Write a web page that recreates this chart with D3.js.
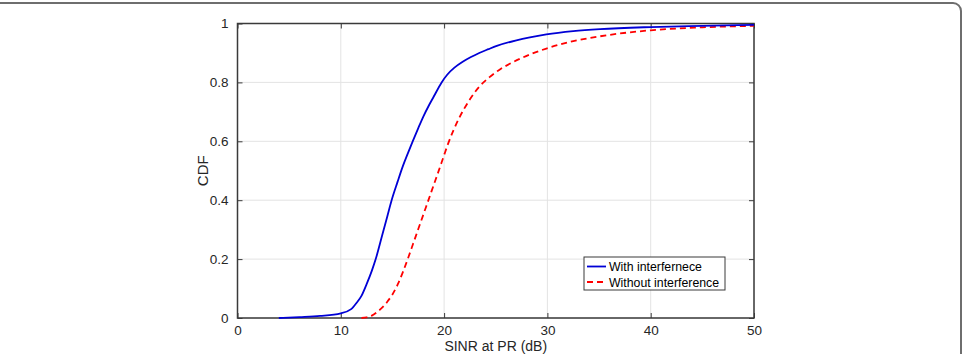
<!DOCTYPE html>
<html>
<head>
<meta charset="utf-8">
<script src="https://cdn.jsdelivr.net/npm/d3@7"></script>
<style>
  body { margin: 0; background: #fff; }
  svg { display: block; font-family: "Liberation Sans", Arial, sans-serif; }
</style>
</head>
<body>
<script>
// values
var xWith = [4, 6, 8, 10, 11, 11.54, 12, 12.5, 13, 13.38, 14, 14.5, 14.92, 15.5, 16, 16.5, 16.96, 17.5, 18, 18.5, 19, 19.76, 20.3, 21, 21.8, 22.6, 23.4, 24.3, 25.1, 27, 28.3, 29.9, 32.5, 35.1, 40, 45, 50];
var fWith = [0, 0.003, 0.007, 0.016, 0.03, 0.052, 0.075, 0.115, 0.16, 0.2, 0.28, 0.345, 0.4, 0.463, 0.515, 0.56, 0.6, 0.645, 0.685, 0.72, 0.752, 0.8, 0.826, 0.85, 0.87, 0.886, 0.9, 0.913, 0.924, 0.943, 0.953, 0.963, 0.974, 0.981, 0.988, 0.992, 0.995];
var xWithout = [12, 12.5, 13, 13.5, 14, 14.5, 15, 15.5, 16, 16.5, 17, 17.5, 18, 18.5, 19, 19.5, 20, 20.4, 21.4, 22.4, 23.4, 24.4, 25.4, 26.4, 27.4, 28.4, 29.9, 32.5, 35, 40, 45, 50];
var fWithout = [0, 0.002, 0.008, 0.02, 0.035, 0.055, 0.08, 0.113, 0.155, 0.202, 0.252, 0.302, 0.352, 0.402, 0.452, 0.502, 0.553, 0.593, 0.675, 0.737, 0.785, 0.818, 0.844, 0.864, 0.881, 0.896, 0.915, 0.94, 0.956, 0.977, 0.987, 0.992];
var xTicks = [0, 10, 20, 30, 40, 50];
var yTicks = [0, 0.2, 0.4, 0.6, 0.8, 1];
var seriesNames = ['With interfernece', 'Without interference'];

var width = 964, height = 354;
var margin = {left: 237.5, right: 964 - 754, top: 23.5, bottom: 354 - 318};

var svg = d3.select('body').append('svg')
    .attr('width', width)
    .attr('height', height);

// figure frame
svg.append('rect')
    .attr('x', -10).attr('y', 3)
    .attr('width', 971).attr('height', 400)
    .attr('rx', 8)
    .attr('fill', 'none')
    .attr('stroke', '#6e6e6e')
    .attr('stroke-width', 2);

var x = d3.scaleLinear().domain([0, 50]).range([margin.left, width - margin.right]);
var y = d3.scaleLinear().domain([0, 1]).range([height - margin.bottom, margin.top]);

var g = svg.append('g');

// grid
g.selectAll('.gx').data(xTicks).enter().append('line')
    .attr('x1', function(d) { return x(d); }).attr('x2', function(d) { return x(d); })
    .attr('y1', y(0)).attr('y2', y(1))
    .attr('stroke', '#e3e3e3').attr('stroke-width', 1);
g.selectAll('.gy').data(yTicks).enter().append('line')
    .attr('y1', function(d) { return y(d); }).attr('y2', function(d) { return y(d); })
    .attr('x1', x(0)).attr('x2', x(50))
    .attr('stroke', '#e3e3e3').attr('stroke-width', 1);

// axes, ticks inward like matlab
var axisColor = '#3a3a3a';
function styleAxis(sel) {
    sel.select('.domain').remove();
    sel.selectAll('line').attr('stroke', axisColor);
    sel.selectAll('text').attr('fill', '#262626').style('font-size', '13.5px');
}
svg.append('g').attr('transform', 'translate(0,' + y(0) + ')')
    .call(d3.axisBottom(x).tickValues(xTicks).tickSize(-5).tickPadding(7).tickFormat(d3.format('d')))
    .call(styleAxis);
svg.append('g').attr('transform', 'translate(0,' + y(1) + ')')
    .call(d3.axisTop(x).tickValues(xTicks).tickSize(-5).tickFormat(''))
    .call(styleAxis);
svg.append('g').attr('transform', 'translate(' + x(0) + ',0)')
    .call(d3.axisLeft(y).tickValues(yTicks).tickSize(-5).tickPadding(9).tickFormat(function(d) { return d3.format('~g')(d); }))
    .call(styleAxis);
svg.append('g').attr('transform', 'translate(' + x(50) + ',0)')
    .call(d3.axisRight(y).tickValues(yTicks).tickSize(-5).tickFormat(''))
    .call(styleAxis);

// box
svg.append('rect')
    .attr('x', x(0)).attr('y', y(1))
    .attr('width', x(50) - x(0)).attr('height', y(0) - y(1))
    .attr('fill', 'none').attr('stroke', axisColor).attr('stroke-width', 1.5);

var line = d3.line()
    .x(function(d) { return x(d[0]); })
    .y(function(d) { return y(d[1]); })
    .curve(d3.curveMonotoneX);

svg.append('path')
    .datum(d3.zip(xWithout, fWithout))
    .attr('d', line)
    .attr('fill', 'none')
    .attr('stroke', '#ff0000')
    .attr('stroke-width', 1.8)
    .attr('stroke-dasharray', '6,4');

svg.append('path')
    .datum(d3.zip(xWith, fWith))
    .attr('d', line)
    .attr('fill', 'none')
    .attr('stroke', '#0000d6')
    .attr('stroke-width', 1.8);

// axis labels
svg.append('text')
    .attr('x', (x(0) + x(50)) / 2).attr('y', 351)
    .attr('text-anchor', 'middle')
    .style('font-size', '14px').attr('fill', '#262626')
    .text('SINR at PR (dB)');
svg.append('text')
    .attr('transform', 'translate(208,' + y(0.5) + ') rotate(-90)')
    .attr('text-anchor', 'middle')
    .style('font-size', '15px').attr('fill', '#262626')
    .text('CDF');

// legend
var lg = svg.append('g').attr('transform', 'translate(584,257)');
lg.append('rect')
    .attr('width', 141).attr('height', 33)
    .attr('fill', '#fff').attr('stroke', axisColor).attr('stroke-width', 1);
var legendColors = ['#0000d6', '#ff0000'];
var legendDash = [null, '6,4'];
seriesNames.forEach(function(name, i) {
    var ly = 9.5 + i * 15.5;
    lg.append('line')
        .attr('x1', 3).attr('x2', 22).attr('y1', ly).attr('y2', ly)
        .attr('stroke', legendColors[i]).attr('stroke-width', 1.8)
        .attr('stroke-dasharray', legendDash[i]);
    lg.append('text')
        .attr('x', 25).attr('y', ly + 4.5)
        .style('font-size', '12.3px').attr('fill', '#000')
        .text(name);
});
</script>
</body>
</html>
